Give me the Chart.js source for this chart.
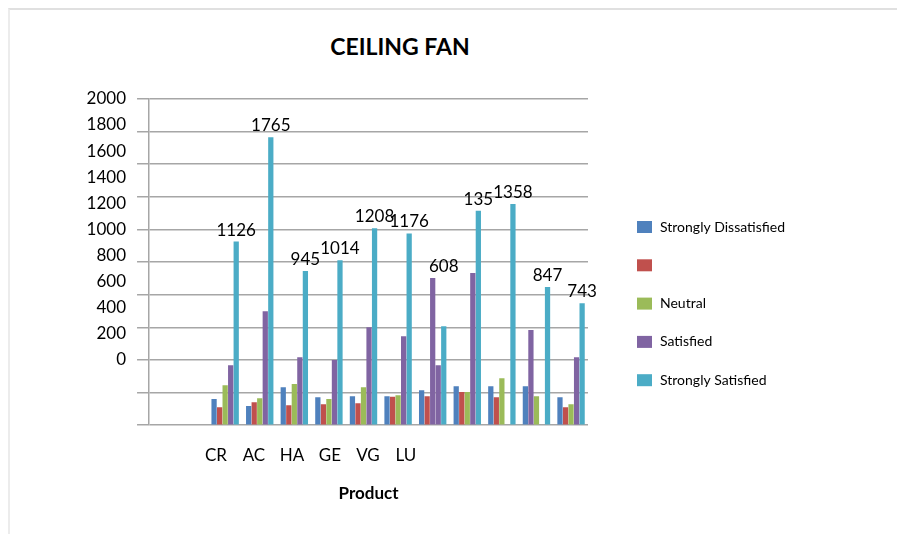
<!DOCTYPE html>
<html>
<head>
<meta charset="utf-8">
<title>Ceiling Fan</title>
<script src="https://cdn.jsdelivr.net/npm/chart.js@4.4.0/dist/chart.umd.min.js"></script>
<style>
    html, body { margin: 0; padding: 0; background: #fff; }
    #moldura { position: absolute; left: 8px; top: 8px; right: 0; bottom: 0; border-top: 2px solid #e0e0e0; border-left: 2px solid #ececec; }
    #titulo { position: absolute; top: 32px; left: 0; width: 800px; text-align: center; font: bold 23px Lato, sans-serif; color: #000; }
    #area { position: absolute; left: 0; top: 0; width: 897px; height: 534px; }
</style>
</head>
<body>
<div id="moldura"></div>
<div id="titulo">CEILING FAN</div>
<div id="area"><canvas id="grafico"></canvas></div>
<script>
// --- Dados ---
const produtos = ['CR', 'AC', 'HA', 'GE', 'VG', 'LU'];
const rotulosY = ['0', '200', '400', '600', '800', '1000', '1200', '1400', '1600', '1800', '2000'];
const rotulosTopo = ['1126', '1765', '945', '1014', '1208', '1176', '608', '135', '1358', '847', '743'];

const nomesSeries = ['Strongly Dissatisfied', '', 'Neutral', 'Satisfied', 'Strongly Satisfied'];
const muitoInsatisfeito = [160, 117, 233, 172, 178, 178, 215, 239, 239, 239, 172];
const insatisfeito = [110, 141, 123, 129, 135, 175, 178, 203, 172, 583, 110];
const neutro = [245, 166, 252, 160, 233, 184, 902, 203, 288, 178, 129];
const satisfeito = [368, 699, 417, 399, 601, 546, 368, 933, null, null, 417];
const muitoSatisfeito = [1126, 1765, 945, 1012, 1208, 1176, 607, 1315, 1356, 847, 748];

// --- Cores ---
const cores = ['#4f81bd', '#c0504d', '#9bbb59', '#8064a2', '#4bacc6'];
// barras que aparecem com a cor de outra série no original
const corTrocada = { '1-9': '#8064a2', '2-6': '#8064a2' };

const series = [muitoInsatisfeito, insatisfeito, neutro, satisfeito, muitoSatisfeito];

Chart.defaults.font.family = 'Lato, sans-serif';
Chart.defaults.color = '#000';

// rótulos acima da barra mais alta de cada grupo
const rotulosPlugin = {
    id: 'rotulosTopo',
    afterDatasetsDraw(chart) {
        const ctx = chart.ctx;
        const metas = series.map((_, s) => chart.getDatasetMeta(s));
        ctx.save();
        ctx.font = '17px Lato, sans-serif';
        ctx.fillStyle = '#000';
        ctx.textAlign = 'center';
        ctx.textBaseline = 'bottom';
        metas[4].data.forEach((barra, i) => {
            const topo = Math.min(...metas.map(m => m.data[i]).filter(b => b && !isNaN(b.y)).map(b => b.y));
            ctx.fillText(rotulosTopo[i], barra.x, topo - 3);
        });
        ctx.restore();
    }
};

// legenda desenhada à direita da área do gráfico
const legendaPlugin = {
    id: 'legendaDireita',
    afterDraw(chart) {
        const { ctx, chartArea } = chart;
        const x = chartArea.right + 49;
        ctx.save();
        ctx.font = '14px Lato, sans-serif';
        ctx.textAlign = 'left';
        ctx.textBaseline = 'middle';
        nomesSeries.forEach((nome, s) => {
            const y = chartArea.top + 128 + s * 38.3;
            ctx.fillStyle = cores[s];
            ctx.fillRect(x, y - 6, 15, 12);
            ctx.fillStyle = '#000';
            ctx.fillText(nome, x + 23, y);
        });
        ctx.restore();
    }
};

new Chart(document.getElementById('grafico'), {
    type: 'bar',
    data: {
        datasets: series.map((valores, s) => ({
            label: nomesSeries[s],
            data: valores.map((v, i) => ({ x: i, y: v })),
            backgroundColor: valores.map((v, i) => corTrocada[s + '-' + i] || cores[s]),
            xAxisID: 'x',
            yAxisID: 'y',
            barPercentage: 0.95,
            categoryPercentage: 0.8
        }))
    },
    options: {
        responsive: true,
        maintainAspectRatio: false,
        animation: false,
        layout: { padding: { top: 99, left: 75.6, right: 309, bottom: 26 } },
        plugins: {
            legend: { display: false },
            tooltip: { enabled: false }
        },
        scales: {
            x: { type: 'linear', min: -2.2, max: 10.49, offset: false, display: false },
            xProd: {
                type: 'linear',
                position: 'bottom',
                min: -1.76,
                max: 9.79,
                offset: false,
                grid: { display: false, drawTicks: false },
                border: { display: false },
                ticks: {
                    stepSize: 1,
                    autoSkip: false,
                    maxRotation: 0,
                    padding: 20,
                    color: '#000',
                    font: { size: 17 },
                    callback: v => produtos[v] ?? ''
                },
                title: { display: true, text: 'Product', color: '#000', font: { size: 17, weight: 'bold' }, padding: { top: -2, bottom: 4 } }
            },
            y: {
                min: 0,
                max: 2000,
                weight: 0,
                ticks: { stepSize: 200, padding: 0, callback: () => '' },
                grid: { color: '#a6a6a6', lineWidth: 1.5, tickLength: 12 },
                border: { color: '#a6a6a6', width: 1.5 }
            },
            yRot: {
                type: 'linear',
                position: 'left',
                min: -508,
                max: 2000,
                weight: 1,
                grid: { display: false, drawTicks: false },
                border: { display: false },
                ticks: {
                    stepSize: 200,
                    padding: 11,
                    color: '#000',
                    font: { size: 17 },
                    callback: v => (v >= 0 ? rotulosY[v / 200] ?? '' : '')
                }
            }
        }
    },
    plugins: [rotulosPlugin, legendaPlugin]
});
</script>
</body>
</html>
